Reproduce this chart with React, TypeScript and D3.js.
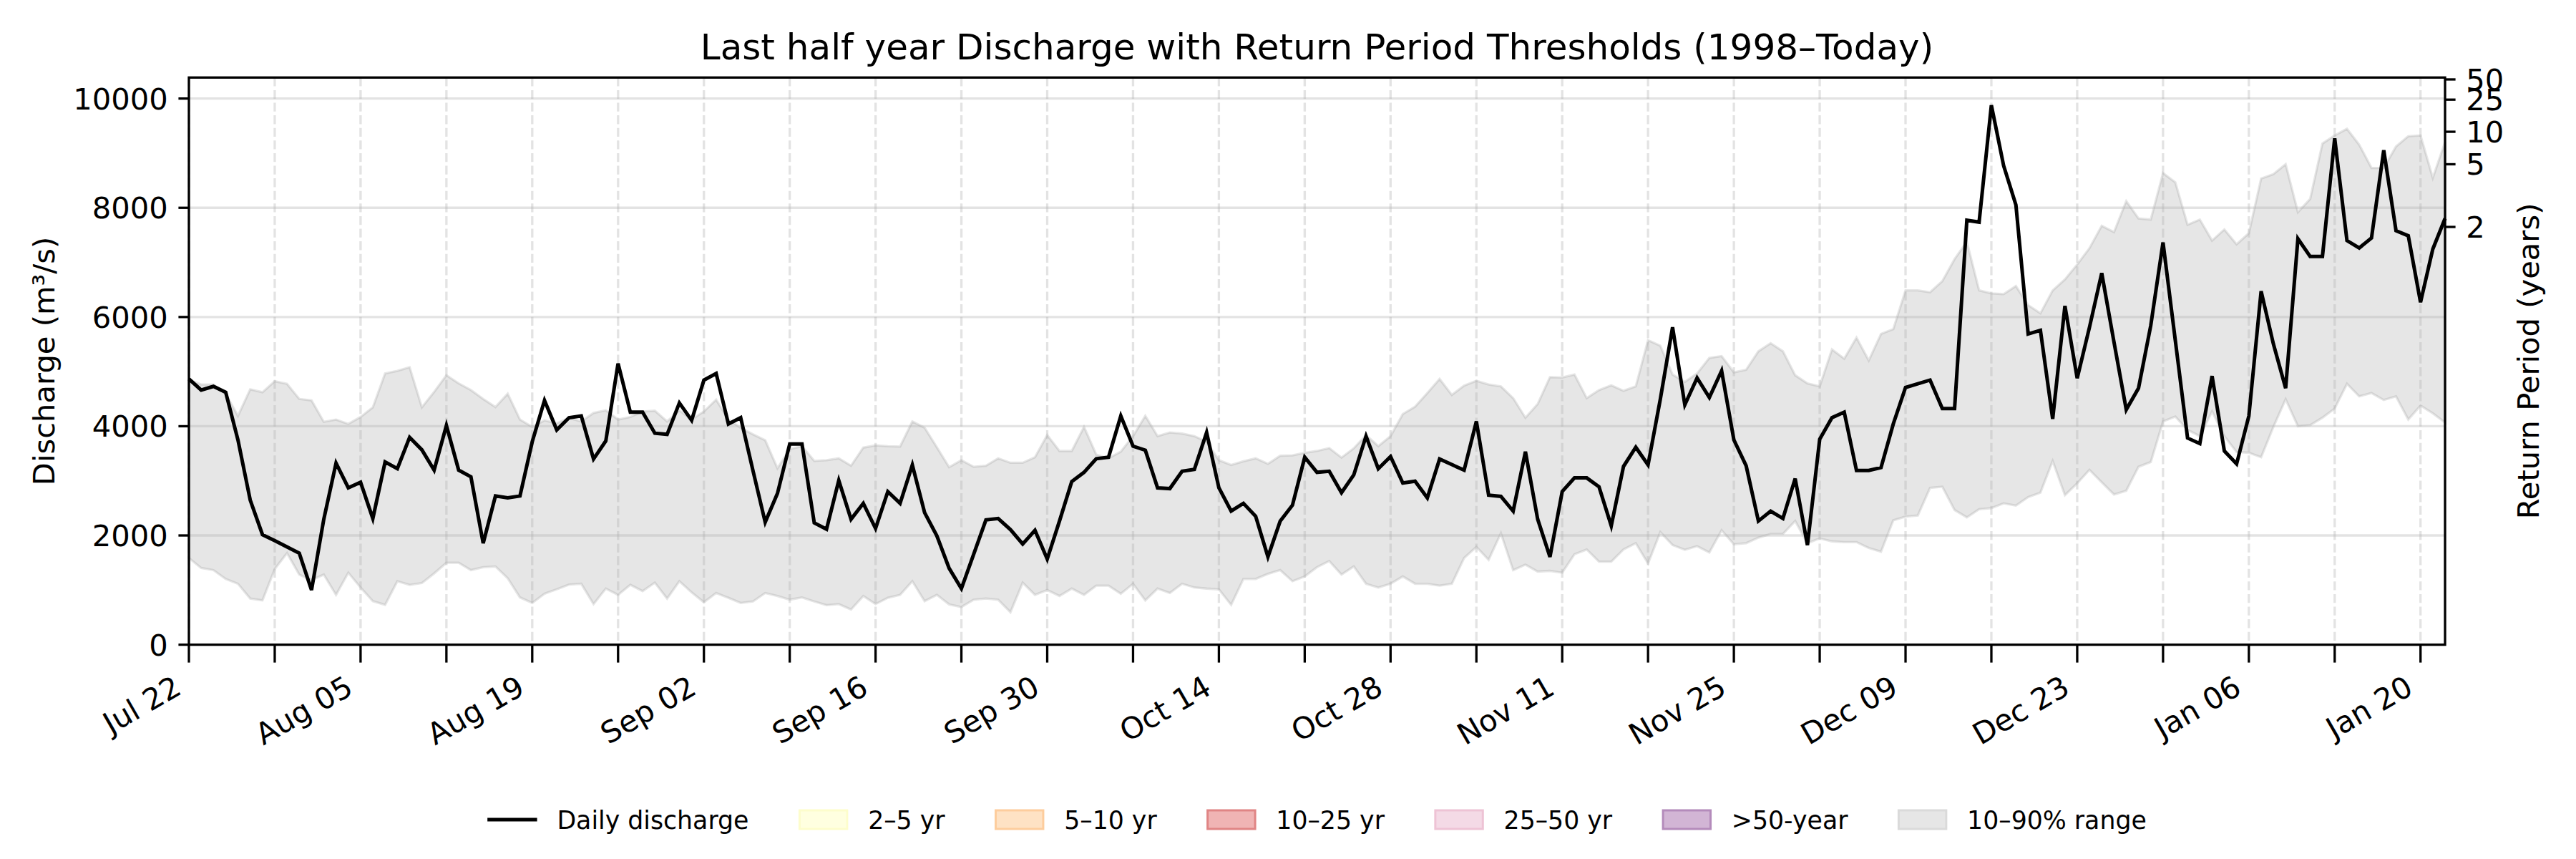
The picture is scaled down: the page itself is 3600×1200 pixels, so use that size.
import React, { useEffect, useRef } from "react";
import * as d3 from "d3";

// ---------- data ----------
const startDate = "2024-07-22";
const endDate = "2025-01-22";

const discharge = [
  4865, 4662, 4730, 4622, 3750, 2649, 2014, 1905, 1790, 1676, 1000, 2297, 3324, 2872, 2973, 2311,
  3345, 3223, 3797, 3568, 3196, 4014, 3196, 3074, 1858, 2723, 2689, 2723, 3716, 4473, 3933, 4156,
  4189, 3399, 3730, 5149, 4257, 4257, 3872, 3851, 4426, 4108, 4845, 4966, 4041, 4156, 3189, 2243,
  2770, 3676, 3676, 2230, 2115, 3007, 2297, 2588, 2128, 2804, 2588, 3291, 2419, 1993, 1400, 1027,
  1655, 2284, 2311, 2108, 1845, 2095, 1568, 2264, 2987, 3156, 3405, 3432, 4189, 3635, 3561, 2872,
  2858, 3176, 3210, 3885, 2872, 2446, 2588, 2351, 1608, 2264, 2554, 3432, 3156, 3176, 2784, 3108,
  3818, 3223, 3446, 2960, 2993, 2689, 3399, 3297, 3196, 4088, 2737, 2716, 2446, 3534, 2297, 1608,
  2804, 3054, 3054, 2892, 2176, 3264, 3615, 3291, 4493, 5811, 4392, 4885, 4527, 5014, 3750, 3277,
  2264, 2446, 2311, 3041, 1824, 3764, 4156, 4257, 3189, 3189, 3243, 4041, 4710, 4777, 4845, 4324,
  4324, 7771, 7737, 9879, 8771, 8054, 5689, 5757, 4135, 6203, 4878, 5811, 6804, 5541, 4304, 4696,
  5845, 7365, 5574, 3784, 3682, 4919, 3547, 3311, 4189, 6473, 5507, 4696, 7433, 7108, 7108, 9270,
  7399, 7264, 7446, 9054, 7581, 7487, 6270, 7243, 7804,
];

const rangeHigh = [
  4850, 4764, 4764, 4595, 4189, 4676, 4622, 4824, 4777, 4500, 4473, 4081, 4122, 4041, 4169, 4345,
  4966, 5014, 5081, 4345, 4629, 4933, 4784, 4662, 4500, 4351, 4595, 4122, 3987, 4108, 4054, 4150,
  4088, 4243, 4291, 4122, 4169, 4270, 4284, 4088, 4291, 4122, 4270, 4486, 4122, 3973, 3851, 3743,
  3230, 3581, 3635, 3365, 3378, 3412, 3277, 3608, 3649, 3635, 3628, 4088, 3973, 3615, 3250, 3378,
  3257, 3277, 3412, 3331, 3331, 3432, 3838, 3547, 3547, 3987, 3480, 3412, 3534, 3818, 4189, 3818,
  3885, 3865, 3818, 3716, 3378, 3291, 3358, 3412, 3311, 3459, 3466, 3514, 3547, 3600, 3426, 3595,
  3838, 3635, 3818, 4223, 4358, 4608, 4865, 4574, 4743, 4831, 4764, 4730, 4514, 4156, 4406, 4899,
  4892, 4946, 4514, 4662, 4750, 4649, 4730, 5574, 5473, 4946, 4811, 4966, 5250, 5284, 4987, 5034,
  5372, 5520, 5372, 4933, 4784, 4730, 5405, 5237, 5622, 5203, 5689, 5777, 6487, 6487, 6453, 6656,
  7061, 7379, 6487, 6433, 6419, 6568, 6216, 6068, 6487, 6689, 6960, 7260, 7669, 7554, 8122, 7804,
  7784, 8635, 8467, 7689, 7784, 7399, 7602, 7331, 7534, 8534, 8615, 8798, 7919, 8162, 9176, 9325,
  9446, 9155, 8730, 8730, 9122, 9311, 9325, 8548, 9203,
];

const rangeLow = [
  1588, 1405, 1365, 1203, 1115, 845, 811, 1385, 1676, 1284, 1183, 1284, 912, 1318, 1047, 797,
  730, 1162, 1095, 1128, 1304, 1500, 1500, 1365, 1419, 1432, 1216, 865, 764, 932, 1014, 1100,
  1115, 743, 1027, 912, 1095, 980, 1135, 845, 1162, 959, 777, 946, 858, 764, 791, 946,
  892, 824, 865, 791, 723, 743, 642, 892, 743, 858, 912, 1162, 797, 912, 737, 689,
  824, 845, 824, 595, 1135, 912, 1000, 892, 1027, 912, 1081, 1081, 932, 1115, 811, 1027,
  946, 1115, 1047, 1027, 1014, 730, 1203, 1203, 1297, 1365, 1162, 1250, 1419, 1530, 1284, 1432,
  1115, 1047, 1115, 1250, 1115, 1115, 1081, 1115, 1588, 1791, 1554, 2041, 1365, 1466, 1338, 1351,
  1318, 1655, 1743, 1520, 1520, 1743, 1858, 1487, 2061, 1824, 1737, 1804, 1689, 2095, 1838, 1858,
  1960, 2027, 2027, 2264, 1858, 1946, 1892, 1878, 1878, 1770, 1703, 2277, 2345, 2365, 2872, 2892,
  2466, 2331, 2480, 2500, 2588, 2547, 2703, 2784, 3365, 2737, 2955, 3200, 2973, 2750, 2818, 3257,
  3345, 4088, 4176, 3933, 3818, 4270, 3818, 3527, 3514, 3433, 3987, 4493, 4000, 4020, 4156, 4324,
  4777, 4547, 4608, 4480, 4547, 4122, 4378, 4237, 4068,
];

const yTicks = [0, 2000, 4000, 6000, 8000, 10000];
const yMax = 10385;
const returnPeriods = ["2", "5", "10", "25", "50"];
const returnThresholds = [7649, 8797, 9392, 9980, 10350];

const legendLabels = ["Daily discharge", "2–5 yr", "5–10 yr", "10–25 yr", "25–50 yr", ">50-year", "10–90% range"];
const legendFills = ["", "#ffffe0", "#fee2c4", "#f0b4b4", "#f4dae6", "#d2b5d5", "#e6e6e6"];
const legendEdges = ["", "#fdfdcc", "#fdcd9d", "#e08585", "#eec3d5", "#b48bbb", "#dadada"];

const titleText = "Last half year Discharge with Return Period Thresholds (1998–Today)";
const yLabelText = "Discharge (m³/s)";
const y2LabelText = "Return Period (years)";

// ---------- component ----------
export default function App() {
  const ref = useRef<SVGSVGElement | null>(null);

  useEffect(() => {
    const svg = d3.select(ref.current);
    svg.selectAll("*").remove();
    const W = 3600, H = 1200;
    const L = 264, R = 3417, T = 108.3, B = 900.6;
    const font = "DejaVu Sans";
    const tickFs = 41.67;

    svg.append("rect").attr("width", W).attr("height", H).attr("fill", "#ffffff");

    const parse = d3.utcParse("%Y-%m-%d");
    const start = parse(startDate) as Date;
    const end = parse(endDate) as Date;
    const dates = discharge.map((_, i) => d3.utcDay.offset(start, i));

    const x = d3.scaleUtc().domain([start, end]).range([L, R]);
    const y = d3.scaleLinear().domain([0, yMax]).range([B, T]);

    const g = svg.append("g");

    // band
    const area = d3
      .area<number>()
      .x((_, i) => x(dates[i]))
      .y0((_, i) => y(rangeLow[i]))
      .y1((_, i) => y(rangeHigh[i]));
    g.append("path")
      .attr("d", area(rangeHigh) as string)
      .attr("fill", "#808080")
      .attr("fill-opacity", 0.2)
      .attr("stroke", "#808080")
      .attr("stroke-opacity", 0.2)
      .attr("stroke-width", 3.3);

    // grid
    const xTickIdx = d3.range(0, 183, 7);
    const xTicks = xTickIdx.map((i) => d3.utcDay.offset(start, i));
    g.selectAll("line.hgrid")
      .data(yTicks)
      .enter()
      .append("line")
      .attr("x1", L)
      .attr("x2", R)
      .attr("y1", (d) => y(d))
      .attr("y2", (d) => y(d))
      .attr("stroke", "#b0b0b0")
      .attr("stroke-opacity", 0.35)
      .attr("stroke-width", 3.3);
    g.selectAll("line.vgrid")
      .data(xTicks)
      .enter()
      .append("line")
      .attr("x1", (d) => x(d))
      .attr("x2", (d) => x(d))
      .attr("y1", T)
      .attr("y2", B)
      .attr("stroke", "#b0b0b0")
      .attr("stroke-opacity", 0.35)
      .attr("stroke-width", 3.3)
      .attr("stroke-dasharray", "12.3,5.3");

    // discharge line
    const line = d3
      .line<number>()
      .x((_, i) => x(dates[i]))
      .y((d) => y(d));
    g.append("path")
      .attr("d", line(discharge) as string)
      .attr("fill", "none")
      .attr("stroke", "#000")
      .attr("stroke-width", 5)
      .attr("stroke-linejoin", "miter");

    // spines
    g.append("rect")
      .attr("x", L)
      .attr("y", T)
      .attr("width", R - L)
      .attr("height", B - T)
      .attr("fill", "none")
      .attr("stroke", "#000")
      .attr("stroke-width", 3.3);

    // y ticks
    yTicks.forEach((v) => {
      g.append("line").attr("x1", L - 14.6).attr("x2", L).attr("y1", y(v)).attr("y2", y(v)).attr("stroke", "#000").attr("stroke-width", 3.3);
      g.append("text")
        .attr("x", L - 29.2)
        .attr("y", y(v) + 15)
        .attr("text-anchor", "end")
        .attr("font-family", font)
        .attr("font-size", tickFs)
        .text(String(v));
    });

    // right ticks (return periods)
    returnThresholds.forEach((v, i) => {
      g.append("line").attr("x1", R).attr("x2", R + 14.6).attr("y1", y(v)).attr("y2", y(v)).attr("stroke", "#000").attr("stroke-width", 3.3);
      g.append("text")
        .attr("x", R + 29.2)
        .attr("y", y(v) + 15)
        .attr("text-anchor", "start")
        .attr("font-family", font)
        .attr("font-size", tickFs)
        .text(returnPeriods[i]);
    });

    // x ticks
    const fmt = d3.utcFormat("%b %d");
    xTicks.forEach((d, k) => {
      const px = x(d);
      g.append("line").attr("x1", px).attr("x2", px).attr("y1", B).attr("y2", B + 25).attr("stroke", "#000").attr("stroke-width", 3.3);
      if (k % 2 === 0) {
        g.append("text")
          .attr("transform", `translate(${px - 8},${968}) rotate(-30)`)
          .attr("text-anchor", "end")
          .attr("font-family", font)
          .attr("font-size", tickFs)
          .text(fmt(d));
      }
    });

    // axis labels
    g.append("text")
      .attr("transform", `translate(76,${(T + B) / 2}) rotate(-90)`)
      .attr("text-anchor", "middle")
      .attr("font-family", font)
      .attr("font-size", tickFs)
      .text(yLabelText);
    g.append("text")
      .attr("transform", `translate(3548,${(T + B) / 2}) rotate(-90)`)
      .attr("text-anchor", "middle")
      .attr("font-family", font)
      .attr("font-size", tickFs)
      .text(y2LabelText);

    // title
    g.append("text")
      .attr("x", (L + R) / 2)
      .attr("y", 83)
      .attr("text-anchor", "middle")
      .attr("font-family", font)
      .attr("font-size", 50)
      .text(titleText);

    // legend
    const lfs = 34.72;
    const handleLen = 2 * lfs;
    const textPad = 0.8 * lfs;
    const colSpace = 2 * lfs;
    const cy = 1145;
    const lg = g.append("g");
    const widths: number[] = [];
    const texts = legendLabels.map((lab) => {
      const t = lg.append("text").attr("font-family", font).attr("font-size", lfs).attr("y", cy + 12.5).text(lab);
      widths.push((t.node() as SVGTextElement).getComputedTextLength());
      return t;
    });
    const total = widths.reduce((a, w) => a + handleLen + textPad + w, 0) + colSpace * (widths.length - 1);
    let cx = (L + R) / 2 - total / 2;
    legendLabels.forEach((lab, i) => {
      if (i === 0) {
        lg.append("line").attr("x1", cx).attr("x2", cx + handleLen).attr("y1", cy).attr("y2", cy).attr("stroke", "#000").attr("stroke-width", 5);
      } else {
        lg.append("rect")
          .attr("x", cx + 1.5)
          .attr("y", cy - 13)
          .attr("width", handleLen - 3)
          .attr("height", 26)
          .attr("fill", legendFills[i])
          .attr("stroke", legendEdges[i])
          .attr("stroke-width", 3);
      }
      texts[i].attr("x", cx + handleLen + textPad);
      cx += handleLen + textPad + widths[i] + colSpace;
    });
  }, []);

  return (
    <svg
      ref={ref}
      width={3600}
      height={1200}
      style={{ position: "absolute", left: 0, top: 0, display: "block" }}
    />
  );
}
